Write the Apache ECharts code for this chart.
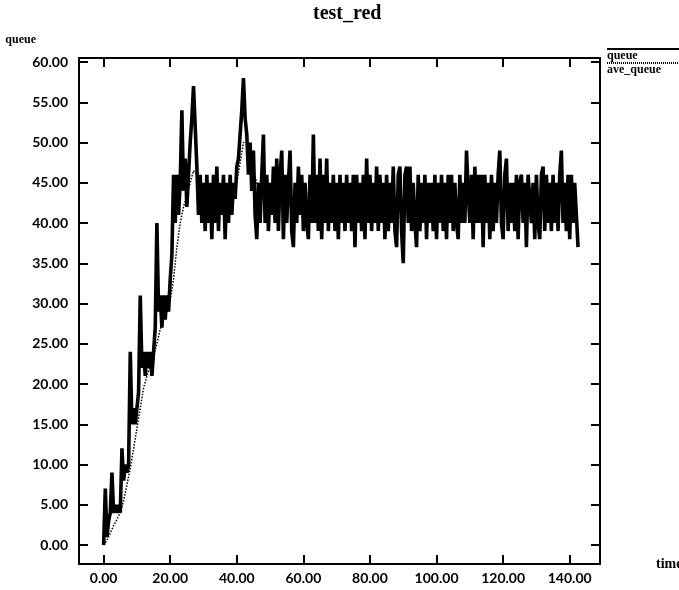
<!DOCTYPE html>
<html>
<head>
<meta charset="utf-8">
<script src="https://cdn.jsdelivr.net/npm/echarts@6/dist/echarts.min.js"></script>
<style>
  html, body { margin: 0; padding: 0; background: #fff; }
  #chart { width: 679px; height: 590px; }
</style>
</head>
<body>
<div id="chart"></div>
<script>
// RED gateway simulation: instantaneous queue and its averaged value over time
const chartTitle = 'test_red';
const yAxisName = 'queue';
const xAxisName = 'time';
const seriesNames = ['queue', 'ave_queue'];

const xTicks = [0, 20, 40, 60, 80, 100, 120, 140];
const yTicks = [0, 5, 10, 15, 20, 25, 30, 35, 40, 45, 50, 55, 60];

// instantaneous queue length, sampled every 0.5 time units from t = 0
const queueStep = 0.5;
const queue = [
  0, 7, 1, 3, 4, 9, 4, 5, 4, 5,
  4, 12, 8, 10, 9, 10, 24, 15, 17, 15,
  17, 19, 31, 22, 24, 21, 24, 22, 24, 21,
  24, 27, 40, 29, 31, 27, 31, 28, 31, 29,
  33, 36, 46, 40, 46, 41, 45, 54, 44, 48,
  42, 46, 50, 53, 57, 52,
  47, 41, 46, 40, 45, 39, 46, 40, 45, 38,
  46, 40, 47, 39, 45, 41, 46, 38, 45, 40,
  46, 41, 45, 43, 47, 48, 51, 54, 58, 53,
  51, 46, 50, 44, 49, 41, 38, 45, 40, 46,
  51, 40, 46, 39, 45, 41, 47, 40, 48, 39,
  46, 49, 38, 46, 40, 45, 49, 39, 37, 45,
  40, 47, 41, 46, 39, 45, 40, 38, 46, 40,
  51, 40, 46, 39, 48, 38, 46, 40, 48, 39,
  45, 40, 46, 39, 45, 38, 46, 40, 45, 39,
  46, 40, 45, 39, 46, 37, 46, 40, 45, 39,
  46, 38, 48, 40, 46, 39, 45, 40, 47, 39,
  46, 40, 45, 38, 46, 39, 45, 40, 47, 39,
  37, 46, 47, 39, 35, 46, 47, 40, 47, 39,
  45, 40, 37, 46, 39, 45, 40, 46, 38, 45,
  40, 45, 39, 46, 38, 45, 40, 46, 39, 45,
  38, 46, 40, 46, 39, 45, 40, 38, 46, 40,
  45, 40, 49, 44, 40, 46, 38, 47, 40, 46,
  40, 46, 37, 46, 40, 45, 38, 46, 39, 45,
  40, 46, 49, 40, 38, 46, 48, 39, 45, 40,
  45, 39, 46, 38, 45, 46, 40, 45, 37, 46,
  46, 40, 45, 38, 46, 40, 38, 46, 47, 39,
  46, 40, 45, 39, 46, 40, 45, 39, 46, 49,
  40, 45, 39, 46, 38, 46, 40, 45, 41, 37
];

// averaged queue length, sampled every 1 time unit from t = 0
const aveStep = 1;
const aveQueue = [
  0, 0.6, 1.5, 2.4, 3.2, 4.0, 5.5, 7.5, 9.5, 12,
  14.5, 17, 19.5, 21, 22.3, 23.5, 25, 26.8, 28, 29,
  30.5, 33, 37, 40, 42, 43.5, 45, 46.5, 46, 45,
  44.5, 44, 43.5, 43.5, 43, 43.5, 43, 42.5, 43, 43.5,
  45, 47.5, 50, 50, 48, 46.5, 45, 44.5, 44, 43.5,
  43, 43.5, 43, 42.5, 43, 42.5, 43, 43.5, 43, 42.5,
  43, 43.5, 44, 44, 43.5, 43, 43, 42.5, 43, 42.5,
  42, 42.5, 42.5, 42, 42, 42.5, 42, 42.5, 43, 43.5,
  43.5, 43, 43, 42.5, 42.5, 42, 42.5, 43, 43, 42.5,
  42, 42.5, 43, 43, 42.5, 42, 42, 42.5, 42.5, 42,
  42, 42, 42, 42, 41.5, 42, 42.5, 43, 43.5, 44,
  44, 43.5, 43, 43, 42.5, 42.5, 42, 42.5, 43, 43.5,
  43.5, 43, 43, 42.5, 42.5, 42.5, 42, 42, 42, 42.5,
  42.5, 42.5, 43, 43, 42.5, 42.5, 43, 43.5, 43.5, 43,
  43, 42.5, 42
];

const toPairs = (values, step) => values.map((v, i) => [i * step, v]);

const serif = '"Liberation Serif", "Times New Roman", serif';
const tickFont = 'Lato, "DejaVu Sans", sans-serif';
const ink = '#000';

const boxLine = { show: true, onZero: false, lineStyle: { color: ink, width: 2 } };
const xRange = { min: -7.4, max: 149.1 };
const yRange = { min: -2.36, max: 60.5 };

const chart = echarts.init(document.getElementById('chart'), null, { renderer: 'canvas' });

chart.setOption({
  animation: false,
  backgroundColor: '#fff',
  title: {
    text: chartTitle,
    left: 308,
    top: -1,
    textStyle: { fontFamily: serif, fontWeight: 'bold', fontSize: 20, color: ink }
  },
  legend: {
    orient: 'vertical',
    left: 602,
    top: 48,
    padding: 0,
    itemGap: 0,
    itemWidth: 0,
    itemHeight: 0,
    icon: 'rect',
    selectedMode: false,
    data: seriesNames,
    formatter: name => (name === seriesNames[0] ? '{sol| }' : '{dot| }') + '\n{t|' + name + '}',
    textStyle: {
      color: ink,
      rich: {
        sol: { width: 77, height: 2, lineHeight: 3, fontSize: 1, backgroundColor: ink },
        dot: { width: 77, height: 1, lineHeight: 3, fontSize: 1, borderColor: ink, borderWidth: 1, borderType: 'dotted' },
        t: { fontFamily: serif, fontWeight: 'bold', fontSize: 12, lineHeight: 11, color: ink }
      }
    }
  },
  grid: { left: 79, right: 79, top: 58, bottom: 26, containLabel: false, outerBoundsMode: 'none' },
  xAxis: [
    {
      type: 'value', position: 'bottom', ...xRange,
      name: xAxisName, nameLocation: 'end', nameGap: 56,
      nameTextStyle: { fontFamily: serif, fontWeight: 'bold', fontSize: 14, color: ink, align: 'left', verticalAlign: 'middle' },
      axisLine: boxLine,
      axisTick: { show: true, inside: true, length: 9, customValues: xTicks, lineStyle: { color: ink, width: 2 } },
      axisLabel: { show: true, customValues: xTicks, formatter: v => v.toFixed(2), margin: 7,
        fontFamily: tickFont, fontWeight: 'bold', fontSize: 14, color: ink },
      splitLine: { show: false }
    },
    {
      type: 'value', position: 'top', ...xRange,
      axisLine: boxLine,
      axisTick: { show: true, inside: true, length: 9, customValues: xTicks, lineStyle: { color: ink, width: 2 } },
      axisLabel: { show: false },
      splitLine: { show: false }
    }
  ],
  yAxis: [
    {
      type: 'value', position: 'left', ...yRange,
      name: yAxisName, nameLocation: 'end', nameGap: 18,
      nameTextStyle: { fontFamily: serif, fontWeight: 'bold', fontSize: 12, color: ink, align: 'right', verticalAlign: 'middle', padding: [0, 43, 0, 0] },
      axisLine: boxLine,
      axisTick: { show: true, inside: true, length: 9, customValues: yTicks, lineStyle: { color: ink, width: 2 } },
      axisLabel: { show: true, customValues: yTicks, formatter: v => v.toFixed(2), margin: 11,
        fontFamily: tickFont, fontWeight: 'bold', fontSize: 14, color: ink },
      splitLine: { show: false }
    },
    {
      type: 'value', position: 'right', ...yRange,
      axisLine: boxLine,
      axisTick: { show: true, inside: true, length: 9, customValues: yTicks, lineStyle: { color: ink, width: 2 } },
      axisLabel: { show: false },
      splitLine: { show: false }
    }
  ],
  series: [
    {
      name: seriesNames[0], type: 'line', xAxisIndex: 0, yAxisIndex: 0,
      data: toPairs(queue, queueStep),
      symbol: 'none', showSymbol: false,
      lineStyle: { color: ink, width: 3.6, join: 'miter', miterLimit: 2 }, itemStyle: { color: ink },
      z: 2
    },
    {
      name: seriesNames[1], type: 'line', xAxisIndex: 0, yAxisIndex: 0,
      data: toPairs(aveQueue, aveStep),
      symbol: 'none', showSymbol: false,
      lineStyle: { color: ink, width: 1.5, type: 'dotted' }, itemStyle: { color: ink },
      z: 3
    }
  ]
});
</script>
</body>
</html>
